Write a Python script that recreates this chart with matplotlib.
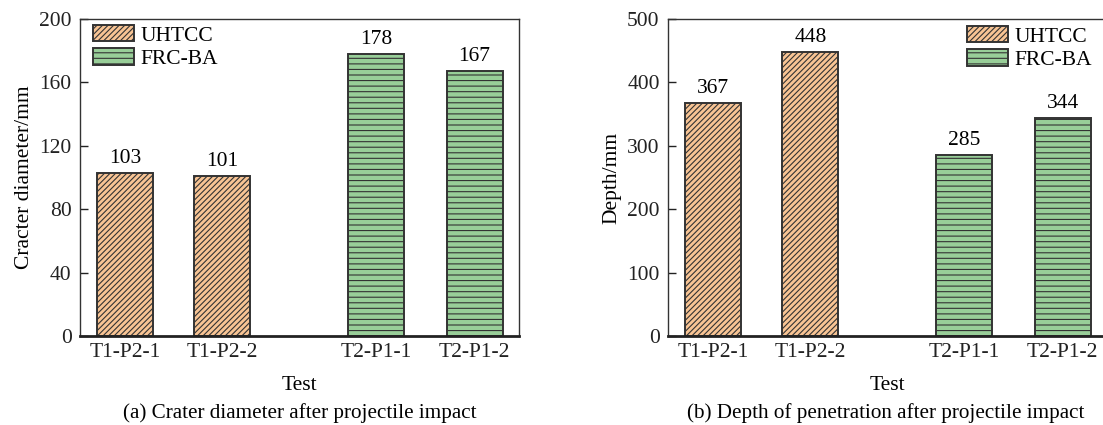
import matplotlib
matplotlib.use("Agg")
import matplotlib.pyplot as plt
from matplotlib.patches import Patch
import numpy as np

plt.rcParams['font.family'] = ['Liberation Serif', 'DejaVu Serif']
plt.rcParams['hatch.color'] = '#2a2a2a'
plt.rcParams['hatch.linewidth'] = 0.8

tests = ["T1-P2-1", "T1-P2-2", "T2-P1-1", "T2-P1-2"]
materials = ["UHTCC", "UHTCC", "FRC-BA", "FRC-BA"]
crater = [103, 101, 178, 167]
depth = [367, 448, 285, 344]

colors = {"UHTCC": "#F8C494", "FRC-BA": "#98CE98"}
hatches = {"UHTCC": "//////", "FRC-BA": "---"}

pos = np.array([0, 1, 2.575, 3.585])
fs = 15.5

fig = plt.figure(figsize=(11.03, 4.25), dpi=100)
ax1 = fig.add_axes([80/1103, 89/425, 439/1103, 317/425])
ax2 = fig.add_axes([668/1103, 89/425, 439/1103, 317/425])

def draw(ax, vals, ylim, yticks, ylabel, caption, capx, legloc, leganchor):
    for p, v, m in zip(pos, vals, materials):
        ax.bar(p, v, width=0.575, color=colors[m], hatch=hatches[m],
               edgecolor='#333333', linewidth=1.4, zorder=2)
        ax.text(p, v + ylim * 0.016, str(v), ha='center', va='bottom', fontsize=fs)
    ax.set_xlim(-0.46, 4.04)
    ax.set_ylim(0, ylim)
    ax.set_yticks(yticks)
    ax.set_xticks(pos)
    ax.set_xticklabels(tests)
    ax.tick_params(direction='in', labelsize=fs, length=6, width=1, colors='#222222')
    ax.tick_params(axis='x', pad=5, length=5)
    ax.tick_params(axis='y', pad=6)
    for s in ['top', 'right', 'left']:
        ax.spines[s].set_linewidth(1.0)
        ax.spines[s].set_color('#333333')
    ax.spines['bottom'].set_linewidth(2.0)
    ax.spines['bottom'].set_color('#222222')
    ax.set_ylabel(ylabel, fontsize=fs, labelpad=4)
    ax.set_xlabel("Test", fontsize=fs, labelpad=10)
    handles = [Patch(facecolor=colors[k], hatch=hatches[k], edgecolor='#333333',
                     linewidth=1.4, label=k) for k in ["UHTCC", "FRC-BA"]]
    ax.legend(handles=handles, loc=legloc, bbox_to_anchor=leganchor, frameon=False,
              fontsize=fs, handlelength=1.9, handleheight=0.8, handletextpad=0.3,
              labelspacing=0.12, borderaxespad=0.0, borderpad=0.0)
    fig.text(capx / 1103, (425 - 413) / 425, caption, ha='left', va='center', fontsize=15.2)

draw(ax1, crater, 200, [0, 40, 80, 120, 160, 200], "Cracter diameter/mm",
     "(a) Crater diameter after projectile impact", 123, 'upper left',
     (13 / 439, 1 - 6 / 317))
draw(ax2, depth, 500, [0, 100, 200, 300, 400, 500], "Depth/mm",
     "(b) Depth of penetration after projectile impact", 687, 'upper right',
     ((1092 - 668) / 439, 1 - 7 / 317))

fig.savefig("out.png", dpi=100)
